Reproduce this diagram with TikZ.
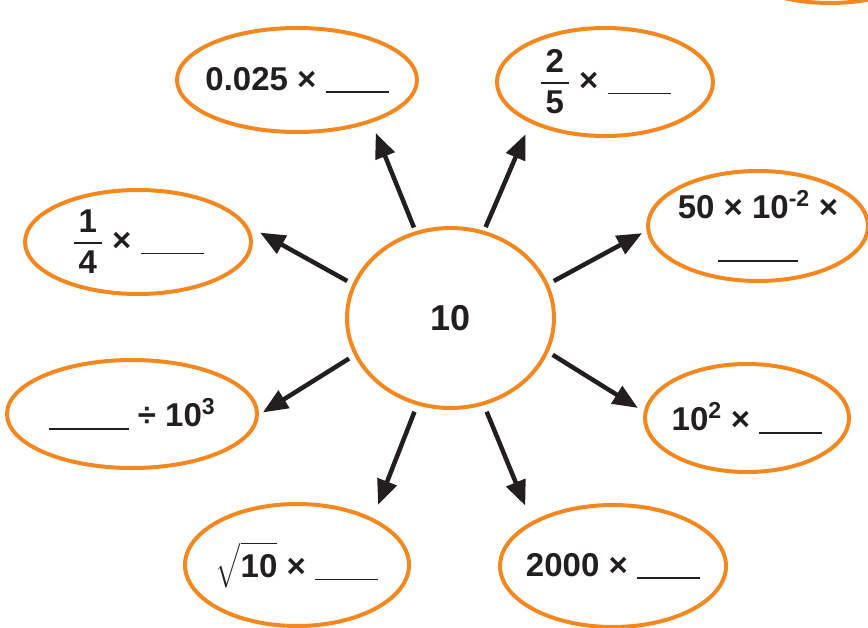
\RequirePackage{fix-cm}
\documentclass[tikz,border=0pt]{standalone}
\usepackage{amsmath}
\usepackage{fontspec}
\setmainfont{Liberation Sans}
\usepackage{tikz}
\usetikzlibrary{arrows.meta,shapes.geometric}
\definecolor{naranja}{RGB}{244,136,32}
\definecolor{tinta}{RGB}{35,31,32}
\newcommand{\blank}[1]{\rule[-3bp]{#1}{1.6bp}}
\newcommand{\frc}[2]{$\genfrac{}{}{2bp}{1}{\mbox{\kern5bp#1\kern5bp\rule[-7bp]{0pt}{7bp}}}{\mbox{\kern5bp#2\kern5bp\rule{0pt}{28bp}}}$}

\begin{document}
\begin{tikzpicture}[x=1bp,y=-1bp,
burbuja/.style={ellipse,draw=naranja,line width=4bp,inner sep=0pt,outer sep=0pt,text=tinta},
every label/.style={text=tinta,align=center,font=\fontsize{33bp}{40bp}\selectfont\bfseries},
arr/.style={tinta,line width=4.5bp,-{Triangle[length=25bp,width=20bp]}}
]
\useasboundingbox (0,0) rectangle (868,628);
\clip (0,0) rectangle (868,628);

\node[burbuja,minimum width=207bp,minimum height=180bp,font=\fontsize{36bp}{40bp}\selectfont\bfseries] (c) at (450.5,318) {10};

\node[burbuja,minimum width=240bp,minimum height=104bp,label={center:0.025 × \blank{63bp}}] (tl) at (297,80) {};
\node[burbuja,minimum width=216bp,minimum height=108bp,label={center:\frc{2}{5} × \blank{63bp}}] (tr) at (605,82) {};
\node[burbuja,minimum width=226bp,minimum height=104bp,label={center:\frc{1}{4} × \blank{63bp}}] (l) at (138,242) {};
\node[burbuja,minimum width=220bp,minimum height=110bp,label={center:50 × 10\textsuperscript{-2} ×\\\blank{80bp}}] (r1) at (758,226) {};
\node[burbuja,minimum width=250bp,minimum height=108bp,label={center:\blank{80bp} ÷ 10\textsuperscript{3}}] (l2) at (132,414) {};
\node[burbuja,minimum width=204bp,minimum height=108bp,label={center:10\textsuperscript{2} × \blank{63bp}}] (r2) at (747,418) {};
\node[burbuja,minimum width=224bp,minimum height=122bp,label={center:$\sqrt{\mbox{10}\rule[-6bp]{0pt}{33bp}}$ × \blank{63bp}}] (bl) at (297,565) {};
\node[burbuja,minimum width=226bp,minimum height=122bp,label={center:2000 × \blank{63bp}}] (br) at (613,566) {};
\node[burbuja,minimum width=220bp,minimum height=110bp] (extra) at (830,-52) {};

\foreach \a/\n/\b/\p/\q in {112/tl/-29/6bp/13bp,69/tr/-152/6bp/14bp,161/l/10/8bp/19bp,19/r1/-178/8bp/7bp,-159/l2/-1/8bp/7bp,-19/r2/177/7bp/9bp,-111/bl/31/9bp/16bp,-69/br/152/9bp/19bp}
  \draw[arr,shorten <=\p,shorten >=\q] (c.\a) -- (\n.\b);
\end{tikzpicture}
\end{document}
